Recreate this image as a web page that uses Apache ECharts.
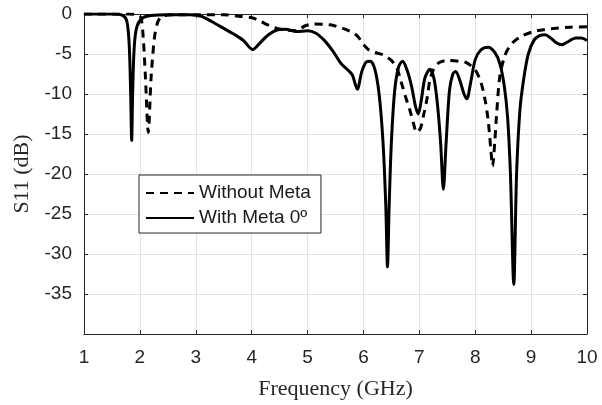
<!DOCTYPE html>
<html>
<head>
<meta charset="utf-8">
<script src="https://cdn.jsdelivr.net/npm/echarts@6/dist/echarts.min.js"></script>
<style>
    html, body { margin: 0; padding: 0; background: #ffffff; }
    #chart { width: 602px; height: 405px; }
</style>
</head>
<body>
<div id="chart"></div>
<script>
// frequency (GHz) / S11 (dB) pairs
const withoutMeta = [
    [1, 0], [1.8, 0], [1.95, -0.1], [2.02, -0.5], [2.06, -3], [2.1, -8], [2.15, -14.8],
    [2.2, -8], [2.26, -3], [2.32, -1], [2.4, -0.3], [2.6, -0.1], [3.5, -0.1], [3.8, -0.3],
    [4.02, -0.5], [4.15, -0.9], [4.3, -1.4], [4.45, -1.8], [4.6, -2.0], [4.8, -2.1],
    [4.95, -1.5], [5.1, -1.25], [5.4, -1.35], [5.63, -1.8], [5.8, -2.3], [5.9, -2.8],
    [6.0, -3.8], [6.08, -4.4], [6.2, -4.8], [6.35, -5.1], [6.5, -5.8], [6.6, -6.8],
    [6.68, -8.6], [6.76, -10.5], [6.83, -12], [6.9, -13.8], [6.95, -14.8], [7.02, -14.3],
    [7.08, -12.5], [7.14, -10.5], [7.19, -8.2], [7.25, -7], [7.35, -6.1], [7.5, -5.8],
    [7.7, -5.9], [7.85, -6.1], [8.0, -7.0], [8.1, -8.5], [8.17, -10.5], [8.23, -13.2],
    [8.28, -17], [8.31, -19], [8.35, -16], [8.38, -12.8], [8.44, -7.8], [8.53, -5.2],
    [8.62, -4], [8.7, -3.4], [8.85, -2.7], [9.04, -2.2], [9.2, -2.0], [9.4, -1.8],
    [9.7, -1.65], [10, -1.6]
];

const withMeta = [
    [1, 0], [1.5, 0], [1.7, -0.2], [1.77, -1], [1.81, -4], [1.835, -10], [1.853, -15.8],
    [1.87, -10], [1.9, -4], [1.95, -1.5], [2.05, -0.5], [2.2, -0.2], [2.5, -0.1],
    [2.9, -0.1], [3.1, -0.3], [3.3, -1], [3.5, -1.8], [3.7, -2.6], [3.85, -3.3],
    [4.02, -4.45], [4.15, -3.6], [4.3, -2.6], [4.45, -2.0], [4.6, -1.9], [4.8, -2.2],
    [5.0, -2.1], [5.15, -2.4], [5.3, -3.3], [5.45, -4.6], [5.6, -6.2], [5.72, -7.0],
    [5.8, -7.6], [5.89, -9.4], [5.97, -7.2], [6.05, -6.0], [6.12, -5.9], [6.2, -6.8],
    [6.28, -10], [6.35, -16], [6.4, -24], [6.43, -31.6], [6.46, -24], [6.5, -16],
    [6.56, -9.5], [6.63, -6.6], [6.7, -5.9], [6.78, -7], [6.86, -9], [6.93, -11.5],
    [6.98, -12.5], [7.03, -11], [7.1, -8], [7.19, -6.9], [7.26, -8], [7.32, -11],
    [7.38, -16], [7.43, -21.9], [7.48, -16], [7.54, -9.5], [7.6, -7.5], [7.65, -7.2],
    [7.72, -8.2], [7.8, -10], [7.85, -10.6], [7.92, -8.5], [8.0, -5.7], [8.1, -4.5],
    [8.23, -4.15], [8.35, -4.8], [8.44, -6.2], [8.52, -9], [8.58, -13], [8.63, -20],
    [8.69, -33.8], [8.74, -20], [8.8, -12], [8.87, -8], [8.95, -5], [9.05, -3.3],
    [9.15, -2.7], [9.25, -2.6], [9.35, -3.0], [9.45, -3.6], [9.55, -3.85], [9.65, -3.5],
    [9.8, -3.0], [9.9, -3.0], [10, -3.3]
];

const seriesNames = ['Without Meta', 'With Meta 0º'];
const xRange = [1, 10];
const yRange = [-40, 0];

const axisColor = '#262626';
const gridColor = '#e3e3e3';
const sans = 'Liberation Sans, Arial, sans-serif';
const serif = 'Liberation Serif, Times New Roman, serif';

// frame axes on top/right only carry the inner ticks
function frameAxis(position, range, interval) {
    return {
        type: 'value', position: position, min: range[0], max: range[1], interval: interval,
        axisLine: {show: true, lineStyle: {color: axisColor, width: 1}},
        axisTick: {show: true, inside: true, length: 4, lineStyle: {color: axisColor}},
        axisLabel: {show: false},
        splitLine: {show: false}
    };
}

let chart = echarts.init(document.getElementById('chart'), null, {renderer: 'canvas'});

chart.setOption({
    animation: false,
    backgroundColor: '#ffffff',
    grid: {left: 84, right: 15, top: 14, bottom: 69, show: false},
    legend: {
        orient: 'vertical',
        left: 139, top: 175,
        padding: [8, 10, 5, 6],
        itemWidth: 48, itemHeight: 14, itemGap: 5,
        // hide the marker dot, keep the line sample
        itemStyle: {opacity: 0},
        backgroundColor: '#ffffff',
        borderColor: axisColor, borderWidth: 1,
        textStyle: {fontFamily: sans, fontSize: 19, color: '#1a1a1a', lineHeight: 20},
        data: seriesNames
    },
    xAxis: [{
        type: 'value', min: xRange[0], max: xRange[1], interval: 1,
        name: 'Frequency (GHz)', nameLocation: 'middle', nameGap: 44,
        nameTextStyle: {fontFamily: serif, fontSize: 22, color: axisColor},
        axisLine: {show: true, onZero: false, lineStyle: {color: axisColor, width: 1}},
        axisTick: {show: true, inside: true, length: 4, lineStyle: {color: axisColor}},
        axisLabel: {fontFamily: sans, fontSize: 19, color: axisColor, margin: 14},
        splitLine: {show: true, lineStyle: {color: gridColor, width: 1}}
    }, frameAxis('top', xRange, 1)],
    yAxis: [{
        type: 'value', min: yRange[0], max: yRange[1], interval: 5,
        name: 'S11 (dB)', nameLocation: 'middle', nameGap: 45,
        nameTextStyle: {fontFamily: serif, fontSize: 22, color: axisColor},
        axisLine: {show: true, onZero: false, lineStyle: {color: axisColor, width: 1}},
        axisTick: {show: true, inside: true, length: 4, lineStyle: {color: axisColor}},
        axisLabel: {fontFamily: sans, fontSize: 19, color: axisColor, margin: 12, showMinLabel: false},
        splitLine: {show: true, lineStyle: {color: gridColor, width: 1}}
    }, frameAxis('right', yRange, 5)],
    series: [{
        name: seriesNames[0],
        type: 'line',
        data: withoutMeta,
        symbol: 'none',
        smooth: 0.3,
        lineStyle: {color: '#000000', width: 3, type: [8, 6]},
        itemStyle: {color: '#000000'}
    }, {
        name: seriesNames[1],
        type: 'line',
        data: withMeta,
        symbol: 'none',
        smooth: 0.3,
        lineStyle: {color: '#000000', width: 3},
        itemStyle: {color: '#000000'}
    }]
});
</script>
</body>
</html>
